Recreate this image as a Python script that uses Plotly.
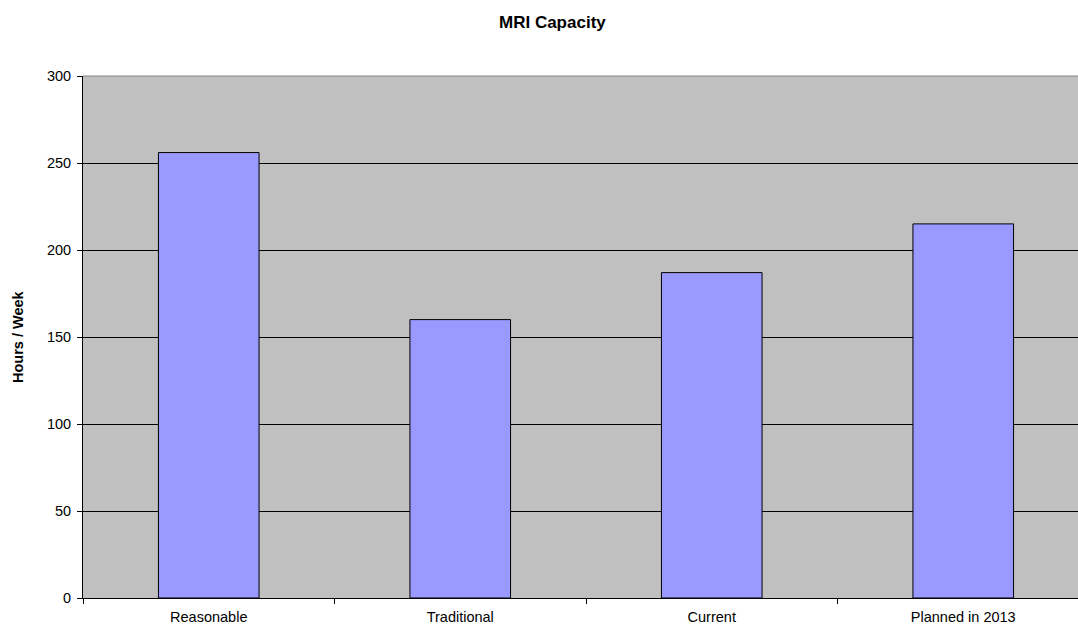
import plotly.graph_objects as go

# Weekly MRI scanner capacity by scenario
categories = ["Reasonable", "Traditional", "Current", "Planned in 2013"]
hours_per_week = [256, 160, 187, 215]
y_ticks = [0, 50, 100, 150, 200, 250, 300]

W, H = 1078, 627
L, T, B = 83, 76, 29
cat_px = 251.5  # width of one category slot in pixels
plot_w = W - L
x_max = -0.5 + plot_w / cat_px

fig = go.Figure()
fig.add_trace(go.Bar(
    x=categories,
    y=hours_per_week,
    width=0.4,
    marker=dict(color="#9999FF", line=dict(color="#000000", width=1)),
    hoverinfo="x+y",
))

fig.update_layout(
    width=W, height=H,
    margin=dict(l=L, r=0, t=T, b=B, pad=0),
    paper_bgcolor="#FFFFFF",
    plot_bgcolor="#C0C0C0",
    showlegend=False,
    font=dict(family="Liberation Sans, Arial, sans-serif", size=14.5, color="#000000"),
    xaxis=dict(
        type="category",
        range=[-0.5, x_max],
        tickson="boundaries",
        ticks="outside", ticklen=5, tickcolor="#000000", tickwidth=1,
        ticklabelstandoff=6,
        automargin=False,
        showline=True, linecolor="#000000", linewidth=1,
        showgrid=False, zeroline=False,
        tickfont=dict(size=14.5),
    ),
    yaxis=dict(
        range=[0, 300],
        tickvals=y_ticks,
        ticks="outside", ticklen=5, tickcolor="#000000", tickwidth=1,
        ticklabelstandoff=3,
        automargin=False,
        showline=True, linecolor="#000000", linewidth=1,
        showgrid=True, gridcolor="#000000", gridwidth=1,
        zeroline=False,
        tickfont=dict(size=14.5),
    ),
    annotations=[
        dict(text="<b>MRI Capacity</b>", xref="paper", yref="paper",
             x=(552 - L) / plot_w, y=1 + (T - 22) / (H - T - B),
             xanchor="center", yanchor="middle", showarrow=False,
             font=dict(size=17)),
        dict(text="<b>Hours / Week</b>", xref="paper", yref="paper",
             x=-(L - 18) / plot_w, y=0.5, textangle=-90,
             xanchor="center", yanchor="middle", showarrow=False,
             font=dict(size=14.5)),
    ],
    shapes=[
        # plot-area top border
        dict(type="line", xref="paper", yref="paper", x0=0, x1=1, y0=1, y1=1,
             line=dict(color="#808080", width=1)),
    ],
)

fig.write_html("out.html")
